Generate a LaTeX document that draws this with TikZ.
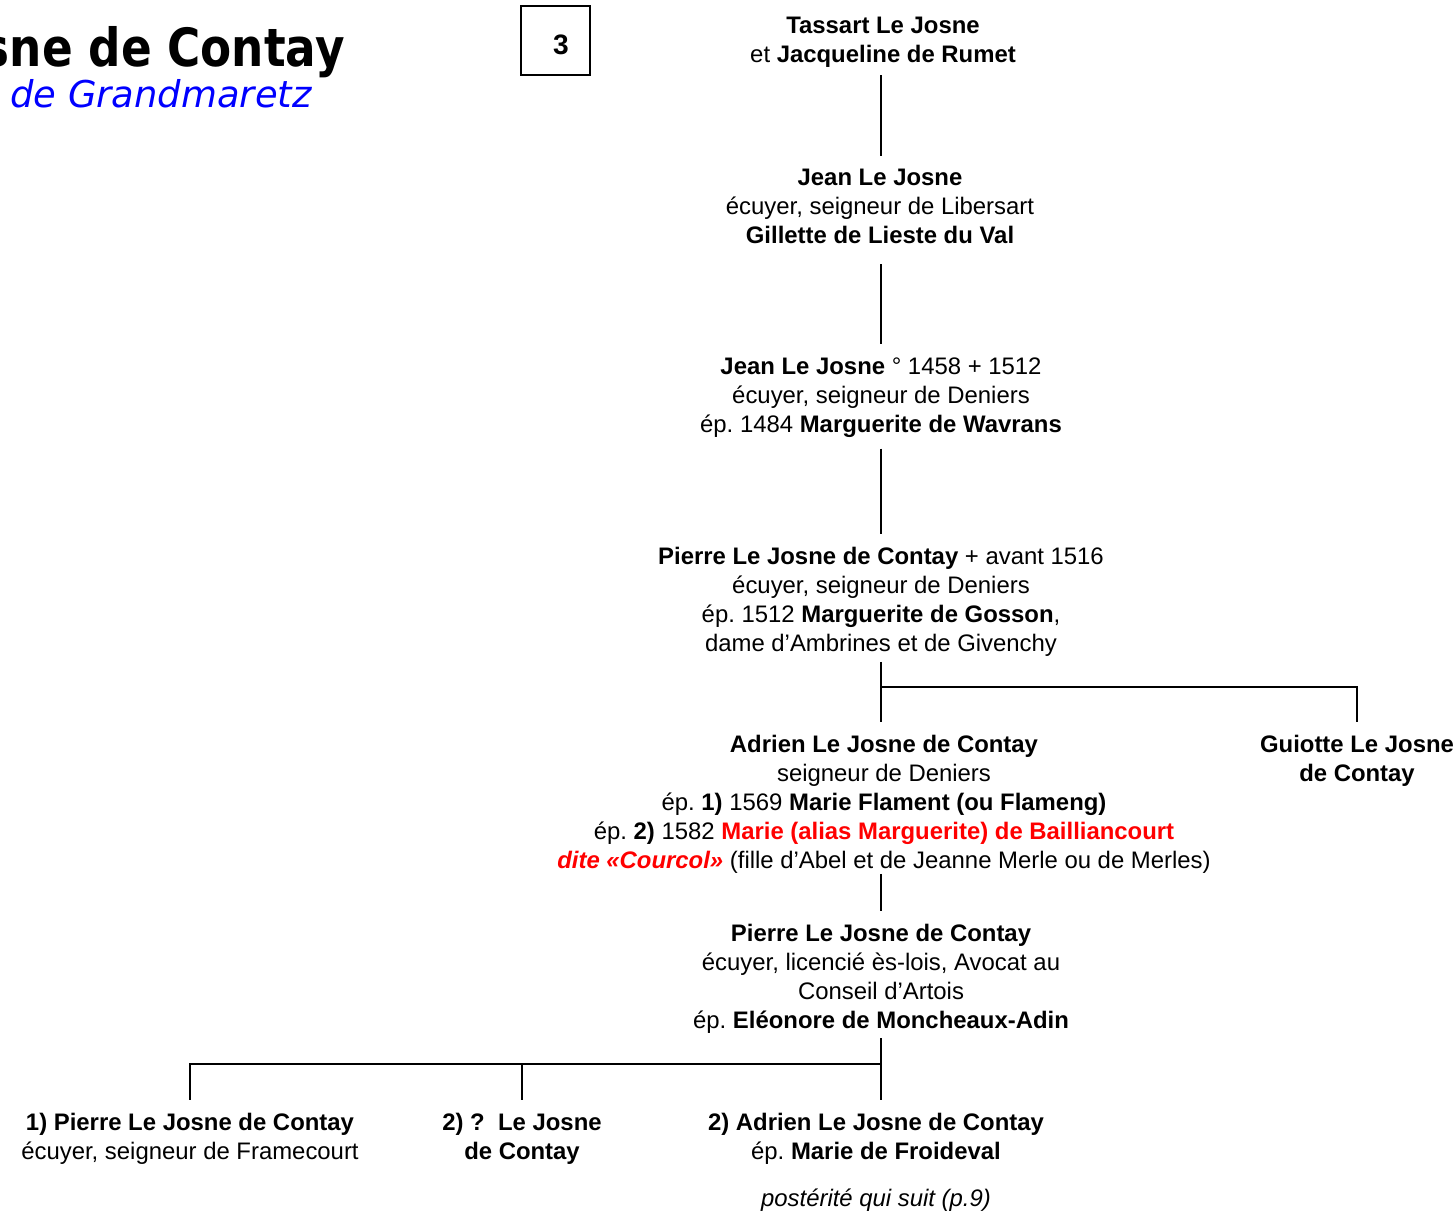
\documentclass[tikz,border=0pt]{standalone}
\usepackage{fontspec}
\setmainfont{Liberation Sans}
\newfontfamily\titlefont[FakeStretch=0.86]{DejaVu Sans}
\newfontfamily\subtitlefont{DejaVu Sans}
\usetikzlibrary{positioning,calc}
\definecolor{redname}{RGB}{255,0,0}
\definecolor{bluetitle}{RGB}{0,0,255}
\newcommand{\rname}[1]{\textcolor{redname}{\textbf{#1}}}
\frenchspacing
\tikzset{
  person/.style={align=center, inner sep=0pt, anchor=north,
    font=\fontsize{13.6pt}{16.5pt}\selectfont},
  link/.style={line width=1.1pt, shorten >=7.4pt},
}

\begin{document}
\begin{tikzpicture}[x=0.02cm, y=-0.02cm]
    \clip (0,0) rectangle (1456,1211);

    % Title and page number
    \node[anchor=base east, inner sep=0pt,
      font=\titlefont\bfseries\fontsize{30pt}{30pt}\selectfont] (title) at (345,66) {sne de Contay};
    \node[anchor=base east, inner sep=0pt, text=bluetitle,
      font=\subtitlefont\itshape\fontsize{21pt}{21pt}\selectfont] (subtitle) at (312,107) {de Grandmaretz};
    \node[draw, line width=0.8pt, minimum width=1.38cm, minimum height=1.38cm] (page) at (555.5,40.5) {};
    \node[inner sep=0pt, font=\fontsize{16pt}{16pt}\selectfont\bfseries] (pagenum) at (561,45) {3};

    % Generations
    \node[person] (tassart) at (883,17) {\textbf{Tassart Le Josne}\\et \textbf{Jacqueline de Rumet}};
    \node[person] (jean) at (880,169) {\textbf{Jean Le Josne}\\écuyer, seigneur de Libersart\\\textbf{Gillette de Lieste du Val}};
    \node[person] (jeanb) at (881,357) {\textbf{Jean Le Josne} ° 1458 + 1512\\écuyer, seigneur de Deniers\\ép. 1484 \textbf{Marguerite de Wavrans}};
    \node[person] (pierre) at (881,547) {\textbf{Pierre Le Josne de Contay} + avant 1516\\écuyer, seigneur de Deniers\\ép. 1512 \textbf{Marguerite de Gosson},\\dame d’Ambrines et de Givenchy};
    \node[person] (adrien) at (884,735) {\textbf{Adrien Le Josne de Contay}\\seigneur de Deniers\\ép. \textbf{1)} 1569 \textbf{Marie Flament (ou Flameng)}\\ép. \textbf{2)} 1582 \rname{Marie (alias Marguerite) de Bailliancourt}\\\rname{\itshape dite «Courcol»} (fille d’Abel et de Jeanne Merle ou de Merles)};
    \node[person] (guiotte) at (1357,735) {\textbf{Guiotte Le Josne}\\\textbf{de Contay}};
    \node[person] (pierreb) at (881,924) {\textbf{Pierre Le Josne de Contay}\\écuyer, licencié ès-lois, Avocat au\\Conseil d’Artois\\ép. \textbf{Eléonore de Moncheaux-Adin}};

    % Children
    \node[person] (pierrec) at (190,1113) {\textbf{1) Pierre Le Josne de Contay}\\écuyer, seigneur de Framecourt};
    \node[person] (lejosne) at (522,1113) {\textbf{2) ?\ \ Le Josne}\\\textbf{de Contay}};
    \node[person] (adrienb) at (876,1113) {\textbf{2) Adrien Le Josne de Contay}\\ép. \textbf{Marie de Froideval}};
    \node[person, font=\fontsize{13.6pt}{16.5pt}\selectfont\itshape] (posterite) at (876,1189) {postérité qui suit (p.9)};

    % Lines
    \coordinate (fork1) at (881,687);
    \coordinate (fork2) at (881,1064);
    \draw[link, shorten <=4pt] (tassart.south -| jeanb.north) -- (jeanb.north |- jean.north);
    \draw[link, shorten <=11.4pt] (jean.south -| jeanb.north) -- (jeanb.north);
    \draw[link, shorten <=6.3pt] (jeanb.south) -- (pierre.north);
    \draw[link, shorten <=2.8pt] (pierre.south) -- (pierre.south |- adrien.north);
    \draw[link] (fork1) -| (guiotte.north);
    \draw[link] (pierreb.north |- adrien.south) -- (pierreb.north);
    \draw[link, shorten <=2.3pt] (pierreb.south) -- (pierreb.south |- adrienb.north);
    \draw[link] (fork2) -| (pierrec.north);
    \draw[link] (fork2) -| (lejosne.north);
\end{tikzpicture}
\end{document}
